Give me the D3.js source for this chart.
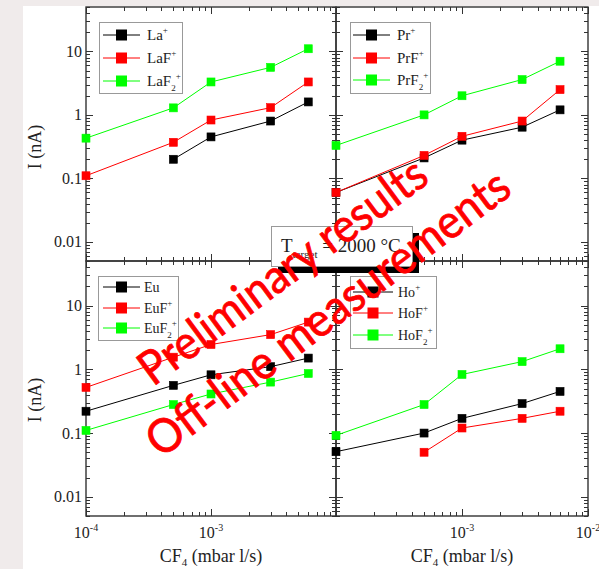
<!DOCTYPE html>
<html>
<head>
<meta charset="utf-8">
<script src="https://cdn.jsdelivr.net/npm/d3@7"></script>
<style>
  body { margin: 0; background: #f0ebeb; }
  svg { display: block; }
</style>
</head>
<body>
<svg id="chart" width="599" height="569"></svg>
<script>
// ---------------- DATA ----------------
// CF4 flow (mbar l/s), same for every panel
const cf4 = [1e-4, 5e-4, 1e-3, 3e-3, 6e-3];

// ion currents I (nA), null = not measured
const laIon = [null, 0.2, 0.45, 0.8, 1.6];
const laF = [0.11, 0.37, 0.83, 1.3, 3.3];
const laF2 = [0.43, 1.29, 3.3, 5.6, 11];

const prIon = [0.06, 0.21, 0.4, 0.64, 1.2];
const prF = [0.06, 0.23, 0.46, 0.8, 2.5];
const prF2 = [0.33, 1.0, 2.0, 3.6, 7.0];

const euIon = [0.22, 0.56, 0.82, 1.1, 1.5];
const euF = [0.52, 1.55, 2.45, 3.5, 5.5];
const euF2 = [0.11, 0.28, 0.41, 0.63, 0.86];

const hoIon = [0.051, 0.1, 0.17, 0.29, 0.45];
const hoF = [null, 0.05, 0.12, 0.17, 0.22];
const hoF2 = [0.092, 0.28, 0.83, 1.32, 2.1];

// legend labels: [base, subscript, superscript]
const laLabels = [['La', '', '+'], ['LaF', '', '+'], ['LaF', '2', '+']];
const prLabels = [['Pr', '', '+'], ['PrF', '', '+'], ['PrF', '2', '+']];
const euLabels = [['Eu', '', ''], ['EuF', '', '+'], ['EuF', '2', '+']];
const hoLabels = [['Ho', '', '+'], ['HoF', '', '+'], ['HoF', '2', '+']];

// axis ticks
const yTickVals = [0.01, 0.1, 1, 10];
const yTickText = ['0.01', '0.1', '1', '10'];
const xTickVals = [1e-4, 1e-3, 1e-2];
const xTickExp = ['-4', '-3', '-2'];

const seriesColors = ['#000000', '#ff0000', '#00ff00'];

// ---------------- LAYOUT ----------------
const serif = "'Liberation Serif', 'Times New Roman', serif";
const svg = d3.select('#chart');

// white slide area
svg.append('rect').attr('x', 23).attr('y', 6).attr('width', 576).attr('height', 563).attr('fill', '#ffffff');

const panels = [
  { x0: 86, w: 250, y0: 7, h: 254, series: [laIon, laF, laF2], labels: laLabels,
    legend: { x: 99, y: 22, w: 83, h: 71, rows: [35, 58, 81], line: [103, 140], text: 147, fs: 15 },
    yLabel: 147, xLabels: null },
  { x0: 336, w: 252, y0: 7, h: 254, series: [prIon, prF, prF2], labels: prLabels,
    legend: { x: 350, y: 22, w: 80, h: 71, rows: [35, 58, 80], line: [353, 390], text: 397, fs: 15 },
    yLabel: null, xLabels: null },
  { x0: 86, w: 250, y0: 261, h: 255, series: [euIon, euF, euF2], labels: euLabels,
    legend: { x: 98, y: 276, w: 80, h: 64, rows: [287, 308, 328], line: [103, 140], text: 144, fs: 14 },
    yLabel: 400, xLabels: [0, 1] },
  { x0: 336, w: 252, y0: 261, h: 255, series: [hoIon, hoF, hoF2], labels: hoLabels,
    legend: { x: 350, y: 276, w: 86, h: 72, rows: [292, 313, 335], line: [353, 393], text: 398, fs: 14 },
    yLabel: null, xLabels: [1, 2] }
];

function isMajor(v) {
  const l = Math.log10(v);
  return Math.abs(l - Math.round(l)) < 1e-6;
}

panels.forEach((p) => {
  const x = d3.scaleLog().domain([1e-4, 1e-2]).range([p.x0, p.x0 + p.w]);
  const y = d3.scaleLog().domain([0.005, 50]).range([p.y0 + p.h, p.y0]);
  const g = svg.append('g');
  const x1 = p.x0 + p.w;
  const y1 = p.y0 + p.h;

  // inward ticks on all four sides
  const ticks = g.append('g').attr('stroke', '#333').attr('stroke-width', 1);
  x.ticks().forEach((t) => {
    const len = isMajor(t) ? 7 : 4;
    const xx = Math.round(x(t)) + 0.5;
    ticks.append('line').attr('x1', xx).attr('x2', xx).attr('y1', y1).attr('y2', y1 - len);
    ticks.append('line').attr('x1', xx).attr('x2', xx).attr('y1', p.y0).attr('y2', p.y0 + len);
  });
  y.ticks().forEach((t) => {
    const len = isMajor(t) ? 7 : 4;
    const yy = Math.round(y(t)) + 0.5;
    ticks.append('line').attr('y1', yy).attr('y2', yy).attr('x1', p.x0).attr('x2', p.x0 + len);
    ticks.append('line').attr('y1', yy).attr('y2', yy).attr('x1', x1).attr('x2', x1 - len);
  });

  // frame
  g.append('rect')
    .attr('x', p.x0).attr('y', p.y0).attr('width', p.w).attr('height', p.h)
    .attr('fill', 'none').attr('stroke', '#333').attr('stroke-width', 1.4);

  // y tick labels + axis title
  if (p.yLabel) {
    g.selectAll('text.ytl')
      .data(yTickVals)
      .join('text')
      .attr('class', 'ytl')
      .attr('x', p.x0 - 4)
      .attr('y', (d) => y(d))
      .attr('dy', '0.35em')
      .attr('text-anchor', 'end')
      .attr('font-family', serif)
      .attr('font-size', 16)
      .attr('fill', '#222')
      .text((d, i) => yTickText[i]);

    g.append('text')
      .attr('transform', `translate(35,${p.yLabel}) rotate(-90)`)
      .attr('text-anchor', 'middle')
      .attr('dy', '0.35em')
      .attr('font-family', serif)
      .attr('font-size', 18)
      .attr('fill', '#222')
      .text('I (nA)');
  }

  // x tick labels + axis title
  if (p.xLabels) {
    p.xLabels.forEach((i) => {
      const t = g.append('text')
        .attr('x', x(xTickVals[i]))
        .attr('y', 538)
        .attr('text-anchor', 'middle')
        .attr('font-family', serif)
        .attr('font-size', 16)
        .attr('fill', '#222');
      t.append('tspan').text('10');
      t.append('tspan').attr('font-size', 10).attr('dy', -7).text(xTickExp[i]);
    });
    const t = g.append('text')
      .attr('x', (p.x0 + x1) / 2)
      .attr('y', 562)
      .attr('text-anchor', 'middle')
      .attr('font-family', serif)
      .attr('font-size', 18)
      .attr('fill', '#222');
    t.append('tspan').text('CF');
    t.append('tspan').attr('font-size', 11).attr('dy', 4).text('4');
    t.append('tspan').attr('dy', -4).text(' (mbar l/s)');
  }

  // data lines and square markers
  const line = d3.line()
    .defined((d) => d != null)
    .x((d, i) => x(cf4[i]))
    .y((d) => y(d));

  p.series.forEach((s, k) => {
    g.append('path')
      .attr('d', line(s))
      .attr('fill', 'none')
      .attr('stroke', seriesColors[k])
      .attr('stroke-width', 1);
    g.selectAll(null)
      .data(s.map((v, i) => ({ v, i })).filter((d) => d.v != null))
      .join('rect')
      .attr('x', (d) => x(cf4[d.i]) - 4)
      .attr('y', (d) => y(d.v) - 4)
      .attr('width', 8)
      .attr('height', 8)
      .attr('fill', seriesColors[k])
      .attr('stroke', k === 0 ? '#000' : seriesColors[k])
      .attr('stroke-width', 0.6);
  });

  // legend
  const L = p.legend;
  const lg = svg.append('g');
  lg.append('rect')
    .attr('x', L.x + 0.5).attr('y', L.y + 0.5).attr('width', L.w).attr('height', L.h)
    .attr('fill', '#fff').attr('stroke', '#999').attr('stroke-width', 1);
  p.labels.forEach((lab, k) => {
    const ry = L.rows[k];
    lg.append('line')
      .attr('x1', L.line[0]).attr('x2', L.line[1]).attr('y1', ry).attr('y2', ry)
      .attr('stroke', seriesColors[k]).attr('stroke-width', 1);
    const mx = (L.line[0] + L.line[1]) / 2;
    lg.append('rect')
      .attr('x', mx - 5.5).attr('y', ry - 5.5).attr('width', 11).attr('height', 11)
      .attr('fill', seriesColors[k]);
    const t = lg.append('text')
      .attr('x', L.text).attr('y', ry + 5)
      .attr('font-family', serif)
      .attr('font-size', L.fs)
      .attr('fill', '#222');
    t.append('tspan').text(lab[0]);
    let shift = 0;
    if (lab[1]) {
      t.append('tspan').attr('font-size', 9).attr('dy', 5).text(lab[1]);
      shift = 5;
    }
    if (lab[2]) {
      t.append('tspan').attr('font-size', 9).attr('dy', -7 - shift).text(lab[2]);
    }
  });
});

// temperature annotation with drop shadow
const tb = svg.append('g');
tb.append('rect').attr('x', 278).attr('y', 233).attr('width', 141).attr('height', 40).attr('fill', '#000');
tb.append('rect').attr('x', 271.5).attr('y', 226.5).attr('width', 141).attr('height', 40)
  .attr('fill', '#fff').attr('stroke', '#999').attr('stroke-width', 1);
const tt = tb.append('text')
  .attr('x', 281).attr('y', 252)
  .attr('font-family', serif)
  .attr('font-size', 19)
  .attr('fill', '#222');
tt.append('tspan').text('T');
tt.append('tspan').attr('font-size', 11).attr('dy', 6).text('target');
tt.append('tspan').attr('dy', -6).text(' = 2000 °C');

// "preliminary" watermark
const wm = svg.append('g')
  .attr('font-family', "Lato, 'Open Sans', sans-serif")
  .attr('font-size', 47)
  .attr('fill', '#ff0000')
  .attr('stroke', '#ff0000')
  .attr('stroke-width', 0.8);
wm.append('text')
  .attr('transform', 'translate(153,387) rotate(-36.5)')
  .attr('textLength', 346)
  .attr('lengthAdjust', 'spacingAndGlyphs')
  .text('Preliminary results');
wm.append('text')
  .attr('transform', 'translate(161,459) rotate(-37)')
  .attr('textLength', 442)
  .attr('lengthAdjust', 'spacingAndGlyphs')
  .text('Off-line measurements');
</script>
</body>
</html>
